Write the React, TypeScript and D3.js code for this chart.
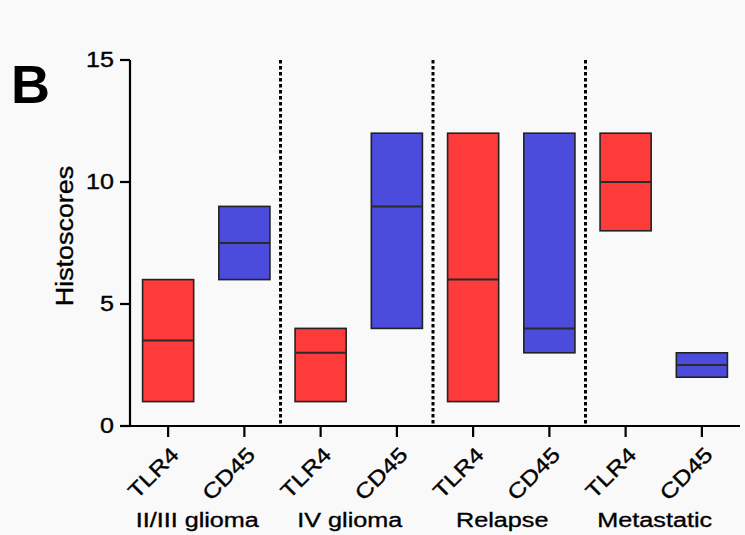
import React from "react";
import * as d3 from "d3";

const groups = ["II/III glioma", "IV glioma", "Relapse", "Metastatic"];
const markers = ["TLR4", "CD45"];
const mins = [1, 6, 1, 4, 1, 3, 8, 2];
const medians = [3.5, 7.5, 3, 9, 6, 4, 10, 2.5];
const maxs = [6, 9, 4, 12, 12, 12, 12, 3];
const yTicks = [0, 5, 10, 15];

const W = 745;
const H = 535;
const FONT = "'Liberation Sans', Arial, sans-serif";
const RED = "#fd3b3b";
const BLUE = "#4b4bdc";
const TXT = { fill: "#000", stroke: "#000", strokeWidth: 0.35 };

export default function App() {
  const cats = groups.flatMap((g) => markers.map((m) => `${g}|${m}`));
  const x = d3.scaleBand<string>().domain(cats).range([130, 740]).padding(0);
  const y = d3.scaleLinear().domain([0, 15]).range([426, 60]);
  const step = x.step();
  const boxW = step * 0.67;
  const cx = (c: string) => (x(c) as number) + x.bandwidth() / 2;

  return (
    <svg
      width={W}
      height={H}
      style={{ position: "absolute", left: 0, top: 0, background: "#f9f9f9" }}
    >
      <rect x={0} y={0} width={W} height={H} fill="#f9f9f9" />
      {/* Panel letter */}
      <text x={11} y={103} fontFamily={FONT} fontWeight="bold" fontSize={54} fill="#000">
        B
      </text>

      {/* Dividers */}
      {groups.slice(1).map((g, i) => {
        const left = cats[(i + 1) * 2 - 1];
        const right = cats[(i + 1) * 2];
        const dx = (cx(left) + cx(right)) / 2 - 2;
        return (
          <line
            key={g}
            x1={dx}
            x2={dx}
            y1={y(15)}
            y2={y(0)}
            stroke="#000"
            strokeWidth={3}
            strokeDasharray="3.5,2.5"
          />
        );
      })}

      {/* Boxes */}
      {cats.map((c, i) => {
        const color = i % 2 === 0 ? RED : BLUE;
        const x0 = cx(c) - boxW / 2;
        return (
          <g key={c}>
            <rect
              x={x0}
              y={y(maxs[i])}
              width={boxW}
              height={y(mins[i]) - y(maxs[i])}
              fill={color}
              stroke="#222"
              strokeWidth={1.6}
            />
            <line
              x1={x0}
              x2={x0 + boxW}
              y1={y(medians[i])}
              y2={y(medians[i])}
              stroke="#2a2a2a"
              strokeWidth={2}
            />
          </g>
        );
      })}

      {/* Y axis */}
      <line x1={130} x2={130} y1={y(15)} y2={y(0)} stroke="#000" strokeWidth={2.2} />
      {yTicks.map((t) => (
        <g key={t}>
          <line x1={120} x2={130} y1={y(t)} y2={y(t)} stroke="#000" strokeWidth={2.2} />
          <text
            transform={`translate(114,${y(t)}) scale(1.14,1)`}
            textAnchor="end"
            dominantBaseline="central"
            fontFamily={FONT}
            fontSize={22}
            {...TXT}
          >
            {t}
          </text>
        </g>
      ))}
      <text
        transform={`translate(73,236) rotate(-90) scale(1.17,1)`}
        textAnchor="middle"
        fontFamily={FONT}
        fontSize={23}
        {...TXT}
      >
        Histoscores
      </text>

      {/* X axis */}
      <line x1={129} x2={740} y1={y(0)} y2={y(0)} stroke="#000" strokeWidth={2.2} />
      {cats.map((c, i) => (
        <g key={c}>
          <line x1={cx(c)} x2={cx(c)} y1={y(0)} y2={y(0) + 11} stroke="#000" strokeWidth={2.2} />
          <text
            transform={`translate(${cx(c) + 7},${y(0) + 25}) rotate(-45) scale(1.2,1)`}
            textAnchor="end"
            dominantBaseline="central"
            fontFamily={FONT}
            fontSize={21}
            {...TXT}
          >
            {markers[i % 2]}
          </text>
        </g>
      ))}
      {groups.map((g, gi) => {
        const gx = (cx(cats[gi * 2]) + cx(cats[gi * 2 + 1])) / 2 - 9;
        return (
          <text
            key={g}
            transform={`translate(${gx},527) scale(1.2,1)`}
            textAnchor="middle"
            fontFamily={FONT}
            fontSize={21}
            {...TXT}
          >
            {g}
          </text>
        );
      })}
    </svg>
  );
}
